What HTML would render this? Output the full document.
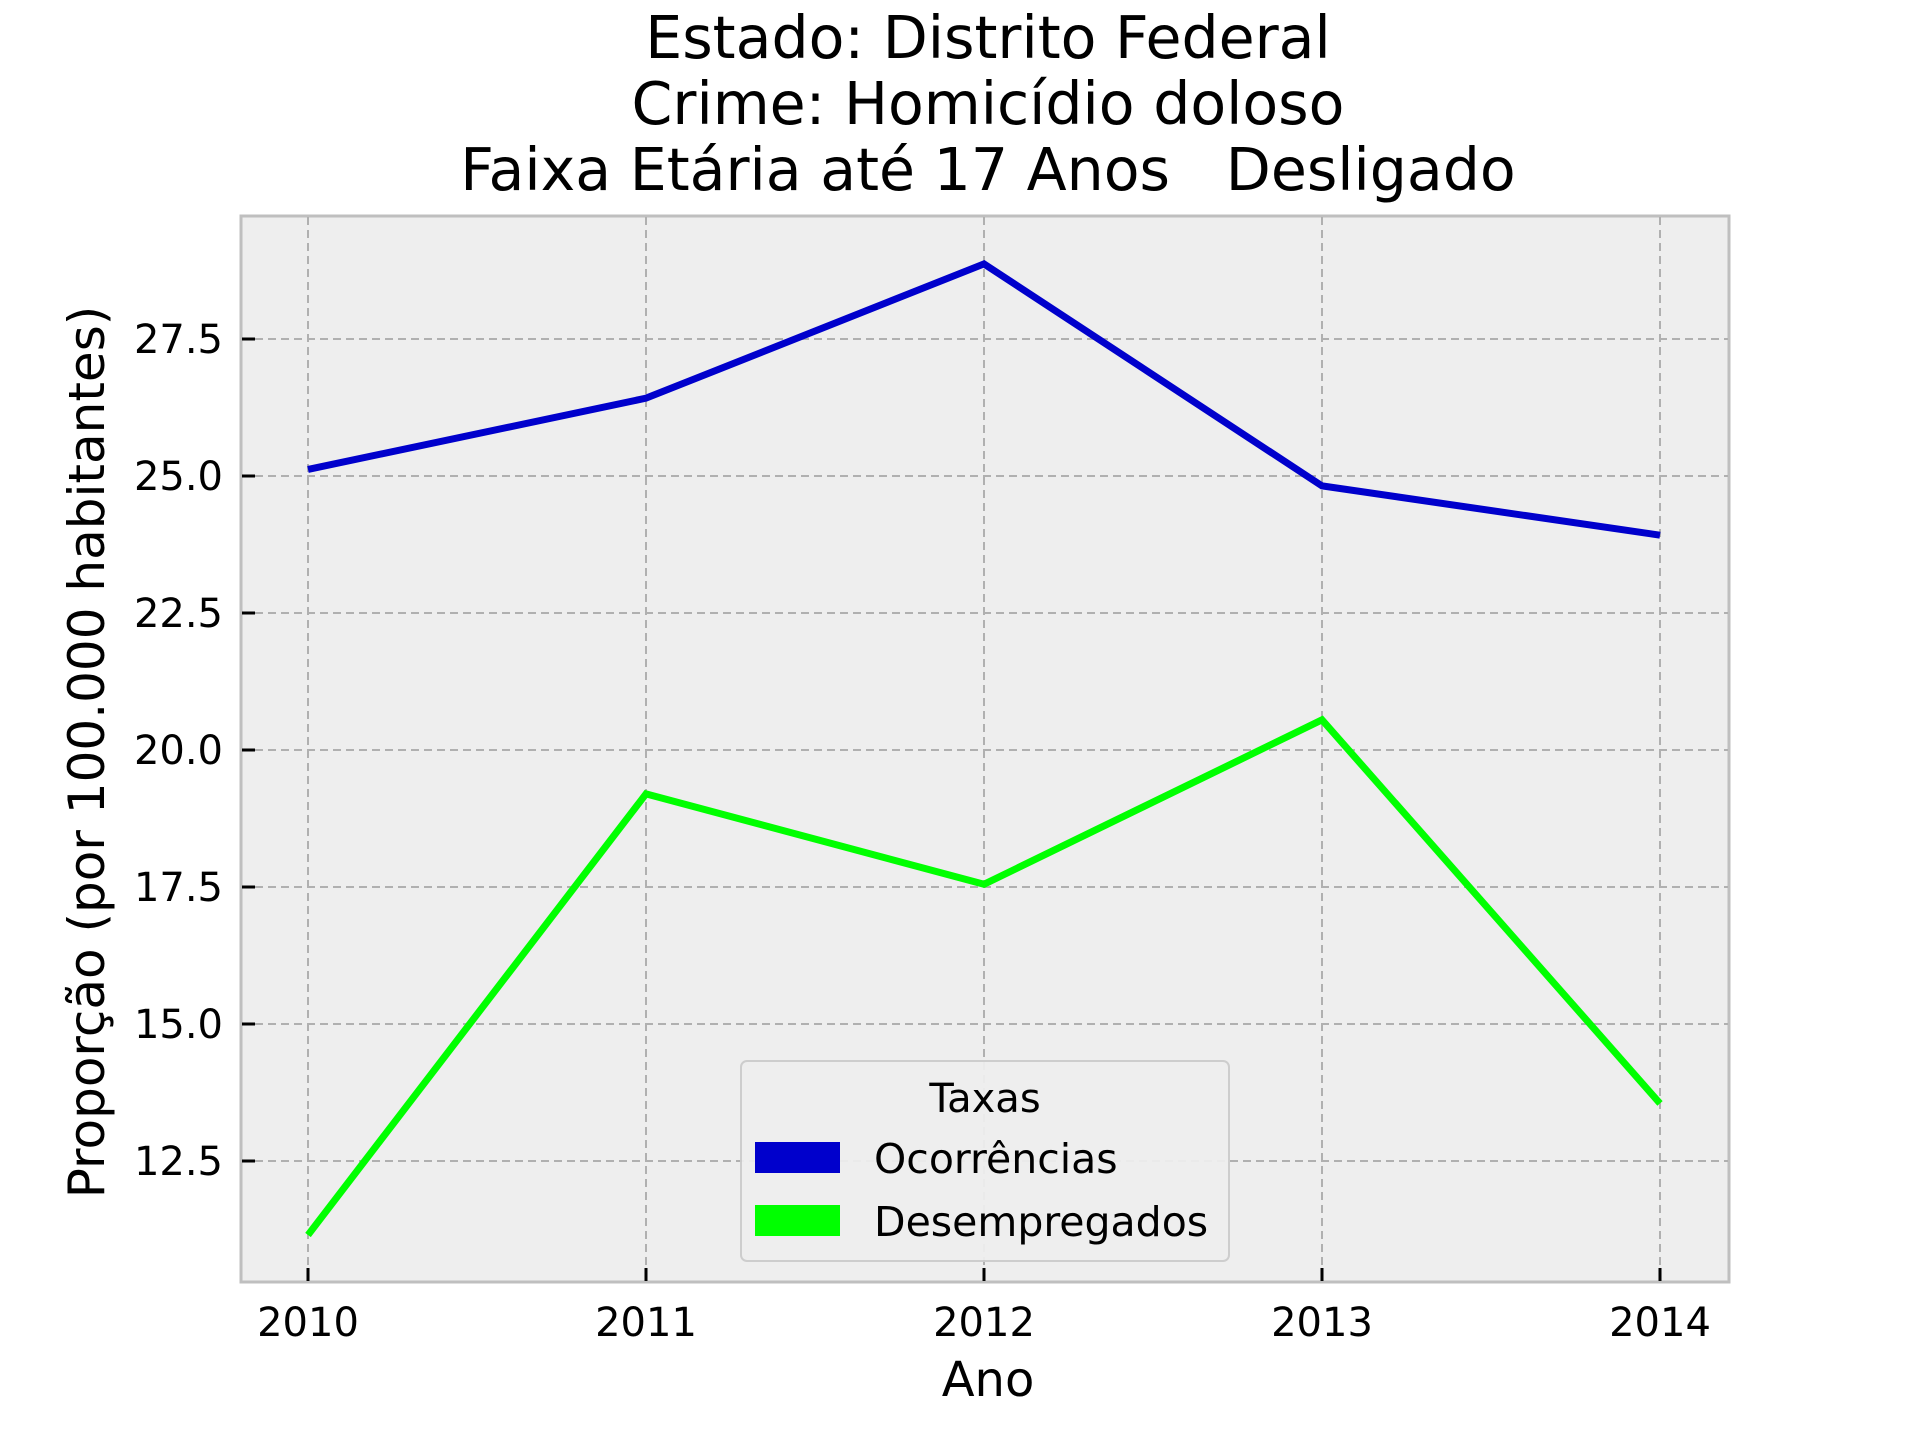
<!DOCTYPE html>
<html><head><meta charset="utf-8"><style>
html,body{margin:0;padding:0;background:#fff;}
svg{display:block;font-family:"DejaVu Sans","Liberation Sans",sans-serif;}
</style></head><body>
<svg id="chart" width="1920" height="1440" viewBox="0 0 1920 1440" xmlns="http://www.w3.org/2000/svg">
<g font-size="58.5" text-anchor="middle" fill="#000">
<text x="988" y="58">Estado: Distrito Federal</text>
<text x="988" y="124">Crime: Homicídio doloso</text>
<text x="988" y="190" style="white-space:pre" xml:space="preserve">Faixa Etária até 17 Anos   Desligado</text>
</g>
<rect x="241" y="216" width="1488" height="1066" fill="#eeeeee" stroke="#bfbfbf" stroke-width="3"/>
<g id="grid"></g>
<g id="series"></g>
<g id="ticks"></g>
<text x="988" y="1396" font-size="48" text-anchor="middle">Ano</text>
<text transform="translate(104,752) rotate(-90)" font-size="50" text-anchor="middle">Proporção (por 100.000 habitantes)</text>
<g>
<rect x="741" y="1061" width="488" height="200" rx="6" fill="#eeeeee" stroke="#cccccc" stroke-width="2" opacity="0.95"/>
<text x="985" y="1112" font-size="40" text-anchor="middle">Taxas</text>
<rect x="755" y="1142" width="85" height="31" fill="#0000cc"/>
<text x="874" y="1173" font-size="41">Ocorrências</text>
<rect x="755" y="1205" width="85" height="31" fill="#00ff00"/>
<text x="874" y="1236" font-size="41">Desempregados</text>
</g>
</svg>
<script>
const years = [2010, 2011, 2012, 2013, 2014];
const ocorrencias = [25.12, 26.42, 28.87, 24.82, 23.92];
const desempregados = [11.15, 19.2, 17.55, 20.55, 13.55];
const yTicks = [12.5, 15.0, 17.5, 20.0, 22.5, 25.0, 27.5];
const yTickLabels = ["12.5", "15.0", "17.5", "20.0", "22.5", "25.0", "27.5"];

const NS = "http://www.w3.org/2000/svg";
function xs(v){ return 308 + (v - 2010) * 338; }
function ys(v){ return 476 - (v - 25) * 54.8; }
function mk(tag, attrs, parent){ const e = document.createElementNS(NS, tag); for (const k in attrs) e.setAttribute(k, attrs[k]); parent.appendChild(e); return e; }
const grid = document.getElementById('grid'), ticks = document.getElementById('ticks'), series = document.getElementById('series');
years.forEach(yr => {
  const x = xs(yr);
  const g = mk('line', {x1:x, x2:x, y1:217, y2:1281, stroke:'#b0b0b0', 'stroke-width':2, 'stroke-dasharray':'8,5'}, grid);
  
  
  const t = mk('line', {x1:x, x2:x, y1:1268, y2:1281, stroke:'#000', 'stroke-width':3}, ticks);
  
  
  const l = mk('text', {x:x, y:1336, 'font-size':40, 'text-anchor':'middle'}, ticks);
  l.textContent = yr;
  
  
});
yTicks.forEach((v, i) => {
  const y = ys(v);
  const g = mk('line', {x1:242, x2:1728, y1:y, y2:y, stroke:'#b0b0b0', 'stroke-width':2, 'stroke-dasharray':'8,5'}, grid);
  
  
  const t = mk('line', {x1:242, x2:255, y1:y, y2:y, stroke:'#000', 'stroke-width':3}, ticks);
  
  
  const l = mk('text', {x:223, y:y + 14, 'font-size':40, 'text-anchor':'end'}, ticks);
  l.textContent = yTickLabels[i];
  
  
});
function drawLine(vals, color, name){
  const pts = vals.map((v, i) => xs(years[i]) + ',' + ys(v)).join(' ');
  const p = mk('polyline', {points:pts, fill:'none', stroke:color, 'stroke-width':7}, series);
  
  
}
drawLine(ocorrencias, '#0000cc', 'line-ocorrencias');
drawLine(desempregados, '#00ff00', 'line-desempregados');
</script>
</body></html>
